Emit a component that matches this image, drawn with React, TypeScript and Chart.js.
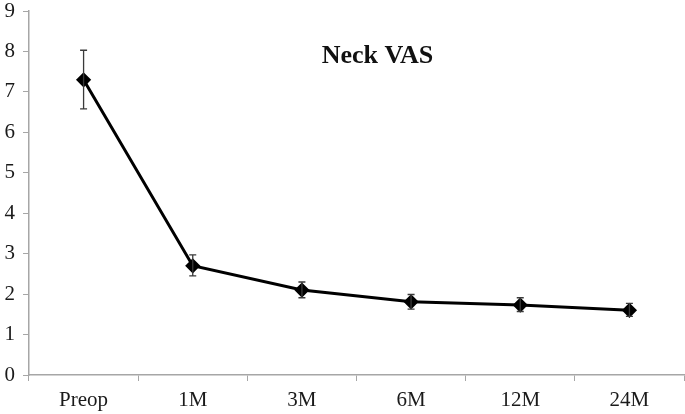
import React, { useEffect, useRef } from "react";
import { Chart, registerables } from "chart.js";

Chart.register(...registerables);

const categories = ["Preop", "1M", "3M", "6M", "12M", "24M"];
const meanValues = [7.3, 2.7, 2.1, 1.81, 1.73, 1.6];
const errorUpper = [8.03, 2.97, 2.3, 1.99, 1.91, 1.77];
const errorLower = [6.58, 2.45, 1.91, 1.63, 1.57, 1.45];
const yTicks = [0, 1, 2, 3, 4, 5, 6, 7, 8, 9];
const titleText = "Neck VAS";

const errorBarPlugin = {
  id: "errorBars",
  afterDatasetsDraw(chart: any) {
    const { ctx, scales } = chart;
    const x = scales.x;
    const y = scales.y;
    ctx.save();
    ctx.strokeStyle = "#3a3a3a";
    ctx.lineWidth = 1.3;
    categories.forEach((c, i) => {
      const px = x.getPixelForValue(i);
      const top = y.getPixelForValue(errorUpper[i]);
      const bot = y.getPixelForValue(errorLower[i]);
      ctx.beginPath();
      ctx.moveTo(px, top);
      ctx.lineTo(px, bot);
      ctx.moveTo(px - 3.5, top);
      ctx.lineTo(px + 3.5, top);
      ctx.moveTo(px - 3.5, bot);
      ctx.lineTo(px + 3.5, bot);
      ctx.stroke();
    });
    ctx.restore();
  },
};

const titlePlugin = {
  id: "innerTitle",
  afterDraw(chart: any) {
    const { ctx, scales, chartArea } = chart;
    const y = scales.y;
    ctx.save();
    ctx.font = "bold 26px 'Liberation Serif', 'Times New Roman', serif";
    ctx.fillStyle = "#111";
    ctx.textAlign = "center";
    ctx.textBaseline = "middle";
    const cx = chartArea.left + 0.532 * (chartArea.right - chartArea.left);
    const cy = y.getPixelForValue(7.88);
    ctx.fillText(titleText, cx, cy);
    ctx.restore();
  },
};

export default function App() {
  const ref = useRef<HTMLCanvasElement | null>(null);
  useEffect(() => {
    document.body.style.margin = "0";
    const chart = new Chart(ref.current as HTMLCanvasElement, {
      type: "line",
      data: {
        labels: categories,
        datasets: [
          {
            data: meanValues,
            borderColor: "#000",
            backgroundColor: "#000",
            borderWidth: 3,
            pointStyle: "rectRot",
            pointRadius: 5.5,
            pointBackgroundColor: "#000",
            pointBorderColor: "#000",
            tension: 0,
            clip: false,
          },
        ],
      },
      options: {
        animation: false,
        responsive: false,
        maintainAspectRatio: false,
        layout: { autoPadding: false, padding: { top: 0, right: 1, left: 0, bottom: 0 } },
        plugins: { legend: { display: false }, tooltip: { enabled: false }, title: { display: false } },
        scales: {
          x: {
            offset: true,
            grid: {
              offset: true,
              drawOnChartArea: false,
              drawTicks: true,
              tickLength: 6,
              color: "#a6a6a6",
            },
            border: { color: "#a6a6a6", width: 1.5 },
            ticks: {
              color: "#1a1a1a",
              font: { family: "'Liberation Serif', serif", size: 21 },
              padding: 7,
              maxRotation: 0,
            },
            afterFit(scale: any) {
              scale.height = 39;
              scale.paddingLeft = 0;
              scale.paddingRight = 0;
            },
          },
          y: {
            min: 0,
            max: 9,
            afterBuildTicks(scale: any) {
              scale.ticks = yTicks.map((v) => ({ value: v }));
            },
            grid: {
              drawOnChartArea: false,
              drawTicks: true,
              tickLength: 6,
              color: "#a6a6a6",
            },
            border: { color: "#a6a6a6", width: 1.5 },
            ticks: {
              color: "#1a1a1a",
              font: { family: "'Liberation Serif', serif", size: 21 },
              padding: 8,
            },
            afterFit(scale: any) {
              scale.width = 29;
              scale.paddingTop = 11;
              scale.paddingBottom = 0;
            },
          },
        },
      },
      plugins: [errorBarPlugin, titlePlugin],
    });
    return () => chart.destroy();
  }, []);
  return (
    <div style={{ width: 685, height: 414 }}>
      <canvas ref={ref} width={685} height={414} style={{ display: "block", width: 685, height: 414 }} />
    </div>
  );
}
